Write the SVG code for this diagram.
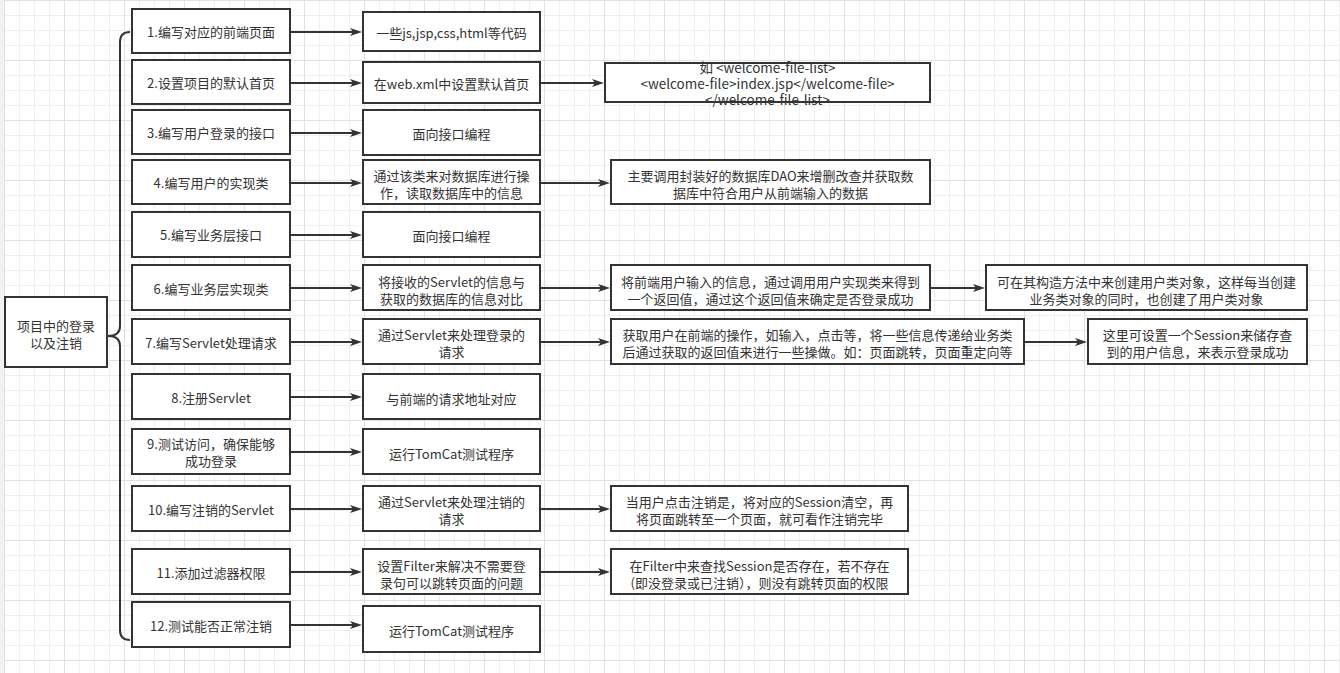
<svg xmlns="http://www.w3.org/2000/svg" width="1340" height="673" viewBox="0 0 1340 673">
<style>
.box{fill:#fff;stroke:#333;stroke-width:2}
.t{font-family:"Microsoft YaHei","Noto Sans CJK SC","Noto Sans",sans-serif;font-size:13px;fill:#333;text-anchor:middle;dominant-baseline:central}
.c{fill:none;stroke:#333;stroke-width:2}
</style>
<defs>
<pattern id="gmin" width="15" height="15" x="4" y="0" patternUnits="userSpaceOnUse"><path d="M0,0.5H15M0.5,0V15" stroke="#efefef" stroke-width="1" fill="none"/></pattern>
<pattern id="gmaj" width="60" height="60" x="4" y="0" patternUnits="userSpaceOnUse"><path d="M0,0.5H60M0.5,0V60" stroke="#e1e1e1" stroke-width="1" fill="none"/></pattern>
<marker id="arr" markerWidth="12" markerHeight="8" refX="4" refY="4" orient="auto" markerUnits="userSpaceOnUse"><path d="M0,0 L12,4 L0,8 L3,4 Z" fill="#333"/></marker>
</defs>
<rect width="1340" height="673" fill="#fff"/>
<rect width="1340" height="673" fill="url(#gmin)"/>
<rect width="1340" height="673" fill="url(#gmaj)"/>
<rect width="4" height="673" fill="#f2f2f2"/>

<g id="connectors">
<path class="c" d="M130,32 Q120,32 120,42 L120,326 Q120,336 108,336 Q120,336 120,346 L120,630 Q120,640 130,640"/>
<g marker-end="url(#arr)">
<path class="c" d="M290,32H354"/>
<path class="c" d="M290,83H354"/>
<path class="c" d="M290,133H354"/>
<path class="c" d="M290,183H354"/>
<path class="c" d="M290,235H354"/>
<path class="c" d="M290,288H354"/>
<path class="c" d="M290,342H354"/>
<path class="c" d="M290,397H354"/>
<path class="c" d="M290,452H354"/>
<path class="c" d="M290,509H354"/>
<path class="c" d="M290,572H354"/>
<path class="c" d="M290,625H354"/>
<path class="c" d="M540,83H596"/>
<path class="c" d="M540,183H602"/>
<path class="c" d="M540,288H602"/>
<path class="c" d="M540,342H602"/>
<path class="c" d="M540,509H602"/>
<path class="c" d="M540,572H602"/>
<path class="c" d="M930,288H977"/>
<path class="c" d="M1024,342H1079"/>
</g>
</g>

<g id="root"><rect class="box" x="5" y="297" width="102" height="70"/><text class="t" x="56" y="325">项目中的登录</text><text class="t" x="56" y="342">以及注销</text></g>

<g id="s1"><rect class="box" x="132" y="9" width="158" height="44"/><text class="t" x="211" y="31">1.编写对应的前端页面</text></g>
<g id="s2"><rect class="box" x="132" y="60" width="158" height="44"/><text class="t" x="211" y="82">2.设置项目的默认首页</text></g>
<g id="s3"><rect class="box" x="132" y="110" width="158" height="44"/><text class="t" x="211" y="132">3.编写用户登录的接口</text></g>
<g id="s4"><rect class="box" x="132" y="160" width="158" height="44"/><text class="t" x="211" y="182">4.编写用户的实现类</text></g>
<g id="s5"><rect class="box" x="132" y="212" width="158" height="45"/><text class="t" x="211" y="234">5.编写业务层接口</text></g>
<g id="s6"><rect class="box" x="132" y="265" width="158" height="45"/><text class="t" x="211" y="288">6.编写业务层实现类</text></g>
<g id="s7"><rect class="box" x="132" y="319" width="158" height="45"/><text class="t" x="211" y="342">7.编写Servlet处理请求</text></g>
<g id="s8"><rect class="box" x="132" y="374" width="158" height="45"/><text class="t" x="211" y="397">8.注册Servlet</text></g>
<g id="s9"><rect class="box" x="132" y="429" width="158" height="45"/><text class="t" x="211" y="443">9.测试访问，确保能够</text><text class="t" x="211" y="460">成功登录</text></g>
<g id="s10"><rect class="box" x="132" y="486" width="158" height="45"/><text class="t" x="211" y="509">10.编写注销的Servlet</text></g>
<g id="s11"><rect class="box" x="132" y="549" width="158" height="45"/><text class="t" x="211" y="572">11.添加过滤器权限</text></g>
<g id="s12"><rect class="box" x="132" y="602" width="158" height="45"/><text class="t" x="211" y="625">12.测试能否正常注销</text></g>

<g id="d1"><rect class="box" x="363" y="12" width="177" height="39"/><text class="t" x="451.5" y="32">一些js,jsp,css,html等代码</text></g>
<g id="d2"><rect class="box" x="363" y="62" width="177" height="41"/><text class="t" x="451.5" y="83">在web.xml中设置默认首页</text></g>
<g id="d3"><rect class="box" x="363" y="110" width="177" height="45"/><text class="t" x="451.5" y="133">面向接口编程</text></g>
<g id="d4"><rect class="box" x="363" y="160" width="177" height="44"/><text class="t" x="451.5" y="175">通过该类来对数据库进行操</text><text class="t" x="451.5" y="192">作，读取数据库中的信息</text></g>
<g id="d5"><rect class="box" x="363" y="212" width="177" height="45"/><text class="t" x="451.5" y="235">面向接口编程</text></g>
<g id="d6"><rect class="box" x="363" y="265" width="177" height="45"/><text class="t" x="451.5" y="281">将接收的Servlet的信息与</text><text class="t" x="451.5" y="298">获取的数据库的信息对比</text></g>
<g id="d7"><rect class="box" x="363" y="319" width="177" height="45"/><text class="t" x="451.5" y="334">通过Servlet来处理登录的</text><text class="t" x="451.5" y="351">请求</text></g>
<g id="d8"><rect class="box" x="363" y="374" width="177" height="45"/><text class="t" x="451.5" y="398">与前端的请求地址对应</text></g>
<g id="d9"><rect class="box" x="363" y="429" width="177" height="45"/><text class="t" x="451.5" y="453">运行TomCat测试程序</text></g>
<g id="d10"><rect class="box" x="363" y="486" width="177" height="45"/><text class="t" x="451.5" y="501">通过Servlet来处理注销的</text><text class="t" x="451.5" y="518">请求</text></g>
<g id="d11"><rect class="box" x="363" y="549" width="177" height="45"/><text class="t" x="451.5" y="565">设置Filter来解决不需要登</text><text class="t" x="451.5" y="582">录句可以跳转页面的问题</text></g>
<g id="d12"><rect class="box" x="363" y="606" width="177" height="46"/><text class="t" x="451.5" y="630">运行TomCat测试程序</text></g>

<g id="e2"><rect class="box" x="605" y="63" width="325" height="39"/><text class="t" x="767.5" y="67" style="font-size:13.5px">如 &lt;welcome-file-list&gt;</text><text class="t" x="767.5" y="83" style="font-size:13.5px">&lt;welcome-file&gt;index.jsp&lt;/welcome-file&gt;</text><text class="t" x="767.5" y="99" style="font-size:13.5px">&lt;/welcome-file-list&gt;</text></g>
<g id="e4"><rect class="box" x="611" y="160" width="319" height="44"/><text class="t" x="770.5" y="175">主要调用封装好的数据库DAO来增删改查并获取数</text><text class="t" x="770.5" y="192">据库中符合用户从前端输入的数据</text></g>
<g id="e6"><rect class="box" x="611" y="265" width="319" height="45"/><text class="t" x="770.5" y="281">将前端用户输入的信息，通过调用用户实现类来得到</text><text class="t" x="770.5" y="298">一个返回值，通过这个返回值来确定是否登录成功</text></g>
<g id="e7"><rect class="box" x="611" y="319" width="413" height="45"/><text class="t" x="817.5" y="334">获取用户在前端的操作，如输入，点击等，将一些信息传递给业务类</text><text class="t" x="817.5" y="351">后通过获取的返回值来进行一些操做。如：页面跳转，页面重定向等</text></g>
<g id="e10"><rect class="box" x="611" y="486" width="297" height="45"/><text class="t" x="759.5" y="501">当用户点击注销是，将对应的Session清空，再</text><text class="t" x="759.5" y="518">将页面跳转至一个页面，就可看作注销完毕</text></g>
<g id="e11"><rect class="box" x="611" y="549" width="297" height="45"/><text class="t" x="759.5" y="565">在Filter中来查找Session是否存在，若不存在</text><text class="t" x="759.5" y="582">(即没登录或已注销），则没有跳转页面的权限</text></g>

<g id="f6"><rect class="box" x="986" y="265" width="321" height="45"/><text class="t" x="1146.5" y="281">可在其构造方法中来创建用户类对象，这样每当创建</text><text class="t" x="1146.5" y="298">业务类对象的同时，也创建了用户类对象</text></g>
<g id="f7"><rect class="box" x="1088" y="319" width="219" height="45"/><text class="t" x="1197.5" y="334">这里可设置一个Session来储存查</text><text class="t" x="1197.5" y="351">到的用户信息，来表示登录成功</text></g>
</svg>
